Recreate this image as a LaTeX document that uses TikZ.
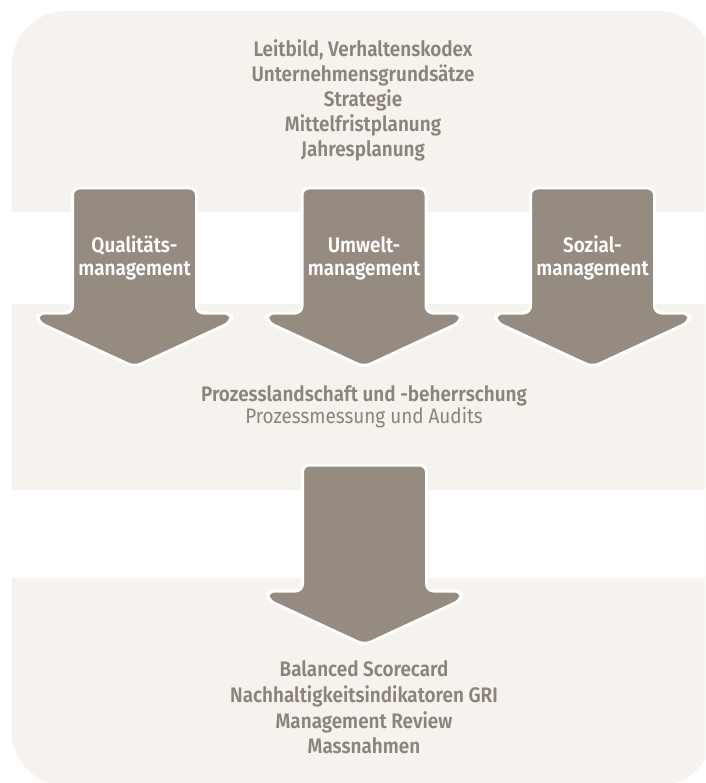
\documentclass[tikz,border=0pt]{standalone}
\usepackage{fontspec}
\setmainfont{Fira Sans}[FakeStretch=0.9, BoldFont={Fira Sans SemiBold}, BoldFeatures={FakeStretch=0.9}]
\definecolor{panelbg}{HTML}{F6F3EE}
\definecolor{arrowgray}{HTML}{958B81}
\definecolor{txtgray}{HTML}{8C837A}
\tikzset{
  bigarrow/.style={fill=arrowgray, draw=white, line width=3pt, rounded corners=7pt, line join=round},
  toptext/.style={anchor=base, inner sep=0pt, text=txtgray, font=\fontsize{21}{25}\selectfont\bfseries},
  lighttext/.style={anchor=base, inner sep=0pt, text=txtgray, font=\fontsize{21}{25}\selectfont},
  arrowlabel/.style={anchor=base, inner sep=0pt, text=white, font=\fontsize{21}{25}\selectfont\bfseries}
}
\newcommand\downarrowshape[3]{%
  \draw[bigarrow] (#1,#2) -- (#1+62,#2) -- (#1+62,#3) -- (#1+97,#3) -- (#1+97,#3+9)
    -- (#1,#3+54) -- (#1-97,#3+9) -- (#1-97,#3) -- (#1-62,#3) -- (#1-62,#2) -- cycle;
}
\begin{document}
\begin{tikzpicture}[x=1pt,y=-1pt]
\useasboundingbox (0,0) rectangle (705,783);
\begin{scope}
  \clip (0,0) rectangle (705,783);
  \fill[panelbg, rounded corners=55pt] (11.5,11) rectangle (713,786);
\end{scope}
\fill[white] (0,212) rectangle (705,304);
\fill[white] (0,490) rectangle (705,578);

% top block
\node[toptext] (t1) at (363,57) {Leitbild, Verhaltenskodex};
\node[toptext] (t2) at (363,82) {Unternehmensgrundsätze};
\node[toptext] (t3) at (363,107) {Strategie};
\node[toptext] (t4) at (363,132) {Mittelfristplanung};
\node[toptext] (t5) at (363,157) {Jahresplanung};

% three arrows
\downarrowshape{134.5}{188}{313}
\downarrowshape{364}{188}{313}
\downarrowshape{592.5}{188}{313}
\node[arrowlabel] (q1) at (134.5,253) {Qualitäts-};
\node[arrowlabel] (q2) at (134.5,275) {management};
\node[arrowlabel] (u1) at (364,253) {Umwelt-};
\node[arrowlabel] (u2) at (364,275) {management};
\node[arrowlabel] (s1) at (592.5,253) {Sozial-};
\node[arrowlabel] (s2) at (592.5,275) {management};

% middle block
\node[toptext] (p1) at (364,401) {Prozesslandschaft und -beherrschung};
\node[lighttext] (p2) at (364,423) {Prozessmessung und Audits};

% bottom arrow
\downarrowshape{364.5}{465}{591}

% bottom block
\node[toptext] (b1) at (364,676) {Balanced Scorecard};
\node[toptext] (b2) at (364,702) {Nachhaltigkeitsindikatoren GRI};
\node[toptext] (b3) at (364,728) {Management Review};
\node[toptext] (b4) at (364,753) {Massnahmen};
\end{tikzpicture}
\end{document}
